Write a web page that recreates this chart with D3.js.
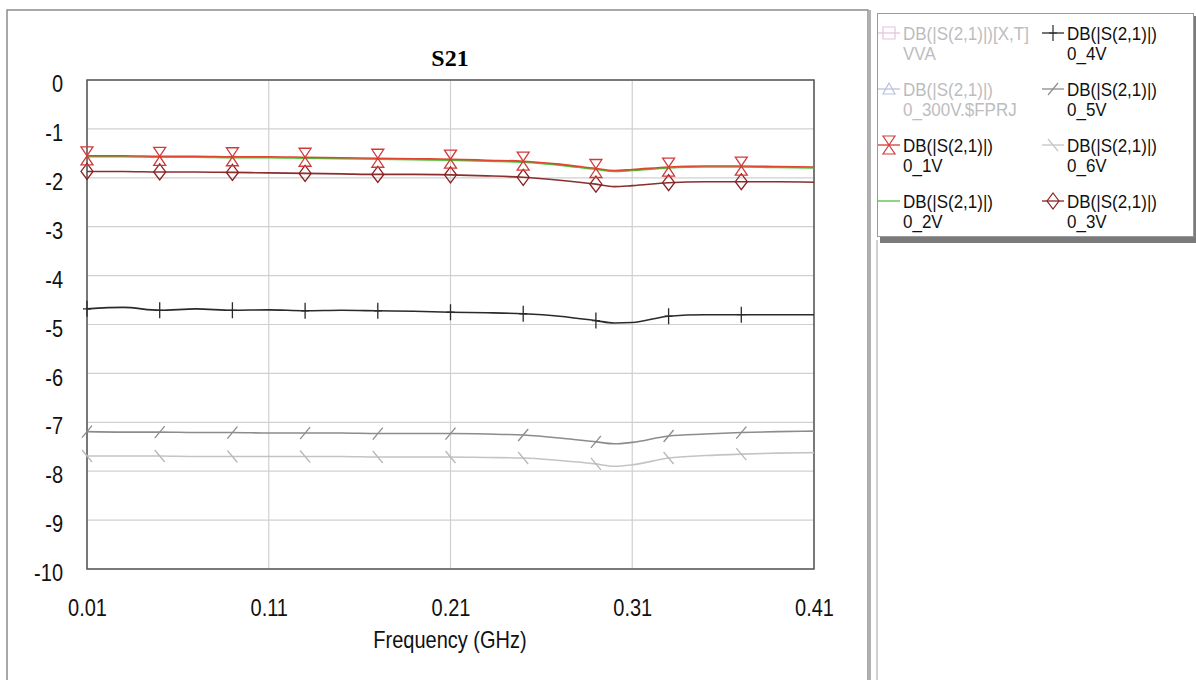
<!DOCTYPE html>
<html>
<head>
<meta charset="utf-8">
<script src="https://cdn.jsdelivr.net/npm/d3@7"></script>
<style>
  body { margin: 0; background: #fff; }
  svg { display: block; font-family: "Liberation Sans", Arial, sans-serif; }
</style>
</head>
<body>
<script>
// frequency points (GHz)
const freq = [0.01, 0.03, 0.05, 0.07, 0.09, 0.11, 0.13, 0.15, 0.17, 0.19, 0.21,
              0.23, 0.25, 0.27, 0.29, 0.30, 0.31, 0.33, 0.35, 0.37, 0.39, 0.41];

// S21 in dB for each bias voltage
const s21_1V = [-1.55, -1.55, -1.56, -1.56, -1.57, -1.57, -1.58, -1.59, -1.60, -1.61, -1.62,
                -1.64, -1.66, -1.72, -1.81, -1.85, -1.83, -1.78, -1.76, -1.76, -1.77, -1.78];
const s21_2V = [-1.57, -1.57, -1.58, -1.58, -1.59, -1.59, -1.60, -1.61, -1.62, -1.63, -1.64,
                -1.66, -1.68, -1.74, -1.83, -1.87, -1.85, -1.80, -1.78, -1.78, -1.79, -1.80];
const s21_3V = [-1.87, -1.87, -1.88, -1.88, -1.89, -1.90, -1.91, -1.92, -1.93, -1.93, -1.94,
                -1.96, -1.99, -2.05, -2.13, -2.18, -2.16, -2.10, -2.08, -2.08, -2.08, -2.09];
const s21_4V = [-4.68, -4.65, -4.71, -4.68, -4.71, -4.70, -4.72, -4.71, -4.72, -4.73, -4.75,
                -4.76, -4.78, -4.83, -4.92, -4.97, -4.96, -4.83, -4.80, -4.80, -4.80, -4.80];
const s21_5V = [-7.19, -7.20, -7.20, -7.21, -7.21, -7.22, -7.22, -7.22, -7.23, -7.23, -7.23,
                -7.24, -7.26, -7.32, -7.40, -7.44, -7.41, -7.28, -7.24, -7.21, -7.19, -7.18];
const s21_6V = [-7.69, -7.69, -7.69, -7.70, -7.70, -7.70, -7.70, -7.70, -7.71, -7.71, -7.71,
                -7.72, -7.73, -7.78, -7.85, -7.90, -7.87, -7.73, -7.68, -7.65, -7.63, -7.62];

// markers every 0.04 GHz
const markerFreq = [0.01, 0.05, 0.09, 0.13, 0.17, 0.21, 0.25, 0.29, 0.33, 0.37];

const xTicks = [0.01, 0.11, 0.21, 0.31, 0.41];
const yTicks = [0, -1, -2, -3, -4, -5, -6, -7, -8, -9, -10];

const series = [
  {name: "0_6V", values: s21_6V, color: "#c4c4c4", marker: "bslash", mcolor: "#b8b8b8"},
  {name: "0_5V", values: s21_5V, color: "#8c8c8c", marker: "slash", mcolor: "#8c8c8c"},
  {name: "0_4V", values: s21_4V, color: "#2a2a2a", marker: "plus", mcolor: "#2a2a2a"},
  {name: "0_3V", values: s21_3V, color: "#8a2e2e", marker: "diamond", mcolor: "#8a2020"},
  {name: "0_2V", values: s21_2V, color: "#4cc23a", marker: "none", mcolor: "#4cc23a"},
  {name: "0_1V", values: s21_1V, color: "#e0452f", marker: "hourglass", mcolor: "#d23a3a"}
];

const W = 1196, H = 680;
const margin = {top: 80, left: 87, right: 814, bottom: 569};
const stretch = 1.2; // labels in the picture are drawn a bit taller than wide

const svg = d3.select("body").append("svg")
    .attr("width", W)
    .attr("height", H);

// outer frame of the graph pane
svg.append("rect")
    .attr("x", 7).attr("y", 10)
    .attr("width", 861).attr("height", 700)
    .attr("fill", "none")
    .attr("stroke", "#8c8c8c")
    .attr("stroke-width", 1.5);
svg.append("line")
    .attr("x1", 869.5).attr("x2", 869.5).attr("y1", 10).attr("y2", H)
    .attr("stroke", "#b0b0b0").attr("stroke-width", 3);
svg.append("line")
    .attr("x1", 877).attr("x2", 877).attr("y1", 240).attr("y2", H)
    .attr("stroke", "#a0a0a0").attr("stroke-width", 1);

var x = d3.scaleLinear()
    .domain([0.01, 0.41])
    .range([margin.left, margin.right]);

var y = d3.scaleLinear()
    .domain([-10, 0])
    .range([margin.bottom, margin.top]);

// grid
svg.append("g")
    .selectAll("line")
    .data(yTicks)
    .enter().append("line")
    .attr("x1", margin.left).attr("x2", margin.right)
    .attr("y1", d => y(d)).attr("y2", d => y(d))
    .attr("stroke", "#d0d0d0")
    .attr("stroke-width", 1.2);

svg.append("g")
    .selectAll("line")
    .data(xTicks)
    .enter().append("line")
    .attr("y1", margin.top).attr("y2", margin.bottom)
    .attr("x1", d => x(d)).attr("x2", d => x(d))
    .attr("stroke", "#d0d0d0")
    .attr("stroke-width", 1.2);

// axes (labels only)
var yAxis = svg.append("g")
    .attr("transform", "translate(" + margin.left + ",0)")
    .call(d3.axisLeft(y).tickValues(yTicks).tickSize(0).tickPadding(24).tickFormat(d => String(d)));
yAxis.select(".domain").remove();
yAxis.selectAll("text")
    .attr("font-size", "20px")
    .attr("font-family", "Liberation Sans, Arial, sans-serif")
    .attr("fill", "#111")
    .attr("dy", 0)
    .attr("y", 11.6 / stretch)
    .attr("transform", "scale(1," + stretch + ")");

var xAxis = svg.append("g")
    .attr("transform", "translate(0," + margin.bottom + ")")
    .call(d3.axisBottom(x).tickValues(xTicks).tickSize(0).tickFormat(d3.format(".2f")));
xAxis.select(".domain").remove();
xAxis.selectAll("text")
    .attr("font-size", "20px")
    .attr("font-family", "Liberation Sans, Arial, sans-serif")
    .attr("fill", "#111")
    .attr("dy", 0)
    .attr("y", 46.6 / stretch)
    .attr("transform", "scale(1," + stretch + ")");

// plot border
svg.append("rect")
    .attr("x", margin.left).attr("y", margin.top)
    .attr("width", margin.right - margin.left)
    .attr("height", margin.bottom - margin.top)
    .attr("fill", "none")
    .attr("stroke", "#555")
    .attr("stroke-width", 1.5);

// title and axis label
svg.append("text")
    .attr("transform", "translate(450,66)")
    .attr("text-anchor", "middle")
    .attr("font-family", "Liberation Serif, Times New Roman, serif")
    .attr("font-weight", "bold")
    .attr("font-size", "24px")
    .text("S21");

svg.append("text")
    .attr("transform", "translate(450,648) scale(1," + stretch + ")")
    .attr("text-anchor", "middle")
    .attr("font-size", "20px")
    .attr("fill", "#111")
    .text("Frequency (GHz)");

// marker shapes
function markerPath(type) {
  switch (type) {
    case "hourglass": return "M-6,-9L6,-9L0,0ZM0,0L-6,9L6,9Z";
    case "diamond": return "M0,-8L6,0L0,8L-6,0Z";
    case "plus": return "M0,-8L0,8M-4,0L4,0";
    case "slash": return "M-5,6L5,-6";
    case "bslash": return "M-5,-6L5,6";
    default: return "";
  }
}

var line = d3.line()
    .x(d => x(d.f))
    .y(d => y(d.v))
    .curve(d3.curveMonotoneX);

var plot = svg.append("g");

series.forEach(function(s) {
  var pts = freq.map((f, i) => ({f: f, v: s.values[i]}));
  plot.append("path")
      .datum(pts)
      .attr("d", line)
      .attr("fill", "none")
      .attr("stroke", s.color)
      .attr("stroke-width", 1.6);

  if (s.marker !== "none") {
    plot.selectAll(".m" + s.name)
        .data(pts.filter(p => markerFreq.some(m => Math.abs(m - p.f) < 1e-6)))
        .enter().append("path")
        .attr("class", "m" + s.name)
        .attr("transform", d => "translate(" + x(d.f) + "," + y(d.v) + ")")
        .attr("d", markerPath(s.marker))
        .attr("fill", "none")
        .attr("stroke", s.mcolor)
        .attr("stroke-width", 1.3);
  }
});

// legend
var legendItems = [
  {l1: "DB(|S(2,1)|)[X,T]", l2: "VVA", color: "#e6c4dc", text: "#bdbdbd", marker: "square", col: 0, row: 0},
  {l1: "DB(|S(2,1)|)", l2: "0_300V.$FPRJ", color: "#b9c2dc", text: "#bdbdbd", marker: "triangle", col: 0, row: 1},
  {l1: "DB(|S(2,1)|)", l2: "0_1V", color: "#d23a3a", text: "#111", marker: "hourglass", col: 0, row: 2},
  {l1: "DB(|S(2,1)|)", l2: "0_2V", color: "#4cc23a", text: "#111", marker: "none", col: 0, row: 3},
  {l1: "DB(|S(2,1)|)", l2: "0_4V", color: "#2a2a2a", text: "#111", marker: "plus", col: 1, row: 0},
  {l1: "DB(|S(2,1)|)", l2: "0_5V", color: "#8c8c8c", text: "#111", marker: "slash", col: 1, row: 1},
  {l1: "DB(|S(2,1)|)", l2: "0_6V", color: "#c4c4c4", text: "#111", marker: "bslash", col: 1, row: 2},
  {l1: "DB(|S(2,1)|)", l2: "0_3V", color: "#8a2020", text: "#111", marker: "diamond", col: 1, row: 3}
];

// legend box with shadow
svg.append("rect")
    .attr("x", 880).attr("y", 237)
    .attr("width", 316).attr("height", 6)
    .attr("fill", "#7a7a7a");
svg.append("rect")
    .attr("x", 1194).attr("y", 16)
    .attr("width", 2).attr("height", 227)
    .attr("fill", "#7a7a7a");
svg.append("rect")
    .attr("x", 877.5).attr("y", 13.5)
    .attr("width", 316).attr("height", 223)
    .attr("fill", "#fff")
    .attr("stroke", "#9a9a9a")
    .attr("stroke-width", 1);

var legend = svg.append("g")
    .selectAll("g")
    .data(legendItems)
    .enter().append("g")
    .attr("transform", d => "translate(" + (d.col === 0 ? 878 : 1042) + "," + (33 + d.row * 56) + ")");

legend.append("line")
    .attr("x1", 0).attr("x2", 22)
    .attr("stroke", d => d.color)
    .attr("stroke-width", 1.3);

legend.append("path")
    .attr("transform", "translate(11,0)")
    .attr("d", function(d) {
      if (d.marker === "square") return "M-6,-6L6,-6L6,6L-6,6Z";
      if (d.marker === "triangle") return "M0,-6L6,5L-6,5Z";
      return markerPath(d.marker);
    })
    .attr("fill", "none")
    .attr("stroke", d => d.color)
    .attr("stroke-width", 1.2);

legend.append("text")
    .attr("transform", "translate(25,7) scale(1,1.1)")
    .attr("font-size", "17px")
    .attr("fill", d => d.text)
    .text(d => d.l1);

legend.append("text")
    .attr("transform", "translate(25,27) scale(1,1.1)")
    .attr("font-size", "17px")
    .attr("fill", d => d.text)
    .text(d => d.l2);
</script>
</body>
</html>
